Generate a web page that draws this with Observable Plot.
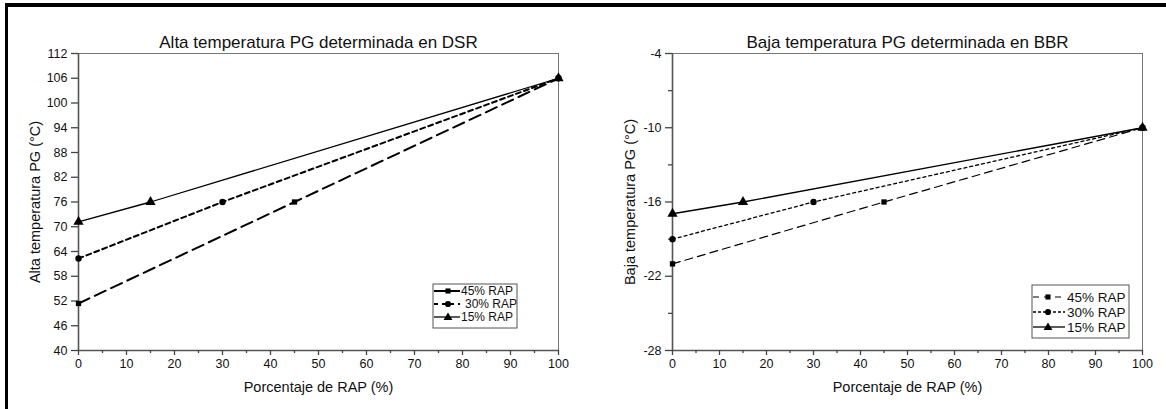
<!DOCTYPE html>
<html>
<head>
<meta charset="utf-8">
<script src="https://cdn.jsdelivr.net/npm/d3@7"></script>
<script src="https://cdn.jsdelivr.net/npm/@observablehq/plot@0.6"></script>
<style>
  html, body { margin: 0; padding: 0; background: #fff; }
  #wrap { position: relative; width: 1166px; height: 409px; background: #fff; overflow: hidden; font-family: "Liberation Sans", Arial, sans-serif; }
  .panel { position: absolute; top: 0; }
  .border { position: absolute; background: #000; }
  .legend { position: absolute; }
</style>
</head>
<body>
<div id="wrap"></div>
<script>
// ---------- data ----------
const seriesNames = ["45% RAP", "30% RAP", "15% RAP"];
const rapX45 = [0, 45, 100];
const rapX30 = [0, 30, 100];
const rapX15 = [0, 15, 100];
const altaT45 = [51.4, 76, 106];
const altaT30 = [62.3, 76, 106];
const altaT15 = [71.2, 76, 106];
const bajaT45 = [-21.0, -16, -10];
const bajaT30 = [-19.0, -16, -10];
const bajaT15 = [-16.95, -16, -10];

const xTicks = [0, 10, 20, 30, 40, 50, 60, 70, 80, 90, 100];
const xMinorTicks = [5, 15, 25, 35, 45, 55, 65, 75, 85, 95];
const altaYTicks = [40, 46, 52, 58, 64, 70, 76, 82, 88, 94, 100, 106, 112];
const bajaYTicks = [-28, -22, -16, -10, -4];
const bajaYMinorTicks = [-25, -19, -13, -7];

const altaTitle = "Alta temperatura PG determinada en DSR";
const bajaTitle = "Baja temperatura PG determinada en BBR";
const altaYLabel = "Alta temperatura PG (°C)";
const bajaYLabel = "Baja temperatura PG (°C)";
const xLabel = "Porcentaje de RAP (%)";

const symbols = ["square", "circle", "triangle"];

function rows(xs, ys, name) { return xs.map((x, i) => ({x, y: ys[i], s: name})); }

const FONT = "'Liberation Sans', Arial, sans-serif";
const wrap = document.getElementById("wrap");
const fmt = d => String(d);

function panel(opts) {
  const {xs, ys, yDomain, yTicks, yMinor, title, yLabel, styles, ml, mr, yLabelDx} = opts;
  const data = seriesNames.map((n, i) => rows(xs[i], ys[i], n));
  const marks = [
    Plot.frame({stroke: "#777", strokeWidth: 1}),
    Plot.ruleX([0], {stroke: "#555", strokeWidth: 1.6}),
    Plot.ruleY([yDomain[0]], {stroke: "#555", strokeWidth: 1.6}),
    Plot.axisX({ticks: xTicks, tickSize: 5, tickPadding: 4, tickFormat: fmt, label: null, fontSize: 12.5, stroke: "#444", strokeWidth: 1.3}),
    Plot.axisX({ticks: xMinorTicks, tickSize: 3, tickFormat: () => "", label: null, stroke: "#444", strokeWidth: 1.3}),
    Plot.axisY({ticks: yTicks, tickSize: 7, tickPadding: 4, tickFormat: fmt, label: null, fontSize: 12.5, stroke: "#444", strokeWidth: 1.3}),
  ];
  if (yMinor) marks.push(Plot.axisY({ticks: yMinor, tickSize: 4, tickFormat: () => "", label: null, stroke: "#444", strokeWidth: 1.3}));
  data.forEach((d, i) => {
    marks.push(Plot.line(d, {x: "x", y: "y", stroke: "#000", strokeWidth: styles[i].w, strokeDasharray: styles[i].dash}));
    marks.push(Plot.dot(d, {x: "x", y: "y", symbol: () => symbols[i], fill: "#000", stroke: "none", r: styles[i].r}));
  });
  marks.push(Plot.text([title], {text: d => d, frameAnchor: "top", textAnchor: "middle", lineAnchor: "middle", dy: -11, fontSize: 17, fill: "#111"}));
  marks.push(Plot.text([xLabel], {text: d => d, frameAnchor: "bottom", textAnchor: "middle", lineAnchor: "middle", dy: 37, fontSize: 14.5, fill: "#111"}));
  marks.push(Plot.text([yLabel], {text: d => d, frameAnchor: "left", textAnchor: "middle", lineAnchor: "middle", dx: yLabelDx, rotate: -90, fontSize: 14.5, fill: "#111"}));
  return Plot.plot({
    width: 583, height: 409,
    marginLeft: ml, marginRight: mr, marginTop: 53, marginBottom: 59,
    style: {fontFamily: FONT, fontSize: "12.5px", background: "transparent", color: "#111"},
    x: {domain: [0, 100]},
    y: {domain: yDomain},
    symbol: {type: "identity"},
    marks
  });
}

const left = panel({
  xs: [rapX45, rapX30, rapX15], ys: [altaT45, altaT30, altaT15],
  yDomain: [40, 112], yTicks: altaYTicks, yMinor: null,
  title: altaTitle, yLabel: altaYLabel, ml: 78, mr: 25, yLabelDx: -43,
  styles: [{w: 2, dash: "12,6", r: 3}, {w: 2, dash: "5,3.5", r: 3.2}, {w: 1.3, dash: null, r: 3.8}]
});
left.classList.add("panel"); left.style.left = "0px";
wrap.appendChild(left);

const right = panel({
  xs: [rapX45, rapX30, rapX15], ys: [bajaT45, bajaT30, bajaT15],
  yDomain: [-28, -4], yTicks: bajaYTicks, yMinor: bajaYMinorTicks,
  title: bajaTitle, yLabel: bajaYLabel, ml: 89, mr: 24, yLabelDx: -42,
  styles: [{w: 1.2, dash: "8,5", r: 3}, {w: 1.3, dash: "3,3", r: 3.2}, {w: 1.3, dash: null, r: 3.8}]
});
right.classList.add("panel"); right.style.left = "583px";
wrap.appendChild(right);

// ---------- legends ----------
function legend(cfg) {
  const svg = d3.create("svg").attr("class", "legend")
    .attr("width", cfg.w + 2).attr("height", cfg.h + 2)
    .style("left", (cfg.x - 1) + "px").style("top", (cfg.y - 1) + "px");
  svg.append("rect").attr("x", 1).attr("y", 1).attr("width", cfg.w).attr("height", cfg.h)
    .attr("fill", "#fff").attr("stroke", "#555").attr("stroke-width", 1);
  seriesNames.forEach((n, i) => {
    const cy = 1 + cfg.row0 + i * cfg.step;
    svg.append("line").attr("x1", 2).attr("x2", cfg.lineEnd).attr("y1", cy).attr("y2", cy)
      .attr("stroke", "#000").attr("stroke-width", cfg.lw[i]).attr("stroke-dasharray", cfg.dash[i]);
    const sym = [d3.symbolSquare, d3.symbolCircle, d3.symbolTriangle][i];
    svg.append("path").attr("d", d3.symbol(sym, cfg.symSize[i])())
      .attr("transform", `translate(${cfg.markX},${cy + (i === 2 ? 0.5 : 0)})`).attr("fill", "#000");
    svg.append("text").attr("x", cfg.textX[i]).attr("y", cy).attr("dy", "0.35em")
      .attr("font-family", FONT).attr("font-size", cfg.fs).attr("fill", "#111").text(n);
  });
  wrap.appendChild(svg.node());
}
legend({x: 433, y: 284, w: 84, h: 44, row0: 7, step: 13, lineEnd: 28, markX: 16,
  textX: [29, 33, 29], fs: 12, lw: [2, 2, 1.3], dash: [null, "4,4", null], symSize: [26, 30, 34]});
legend({x: 1032, y: 285, w: 97, h: 53, row0: 12, step: 15, lineEnd: 34, markX: 17,
  textX: [36, 36, 36], fs: 13.5, lw: [1.2, 1.3, 1.3], dash: ["6,5", "3,2", null], symSize: [26, 30, 34]});

// ---------- image border ----------
const b1 = document.createElement("div"); b1.className = "border";
Object.assign(b1.style, {left: "5px", top: "3px", width: "1161px", height: "4px"});
const b2 = document.createElement("div"); b2.className = "border";
Object.assign(b2.style, {left: "5px", top: "3px", width: "3px", height: "406px"});
wrap.appendChild(b1); wrap.appendChild(b2);
</script>
</body>
</html>
